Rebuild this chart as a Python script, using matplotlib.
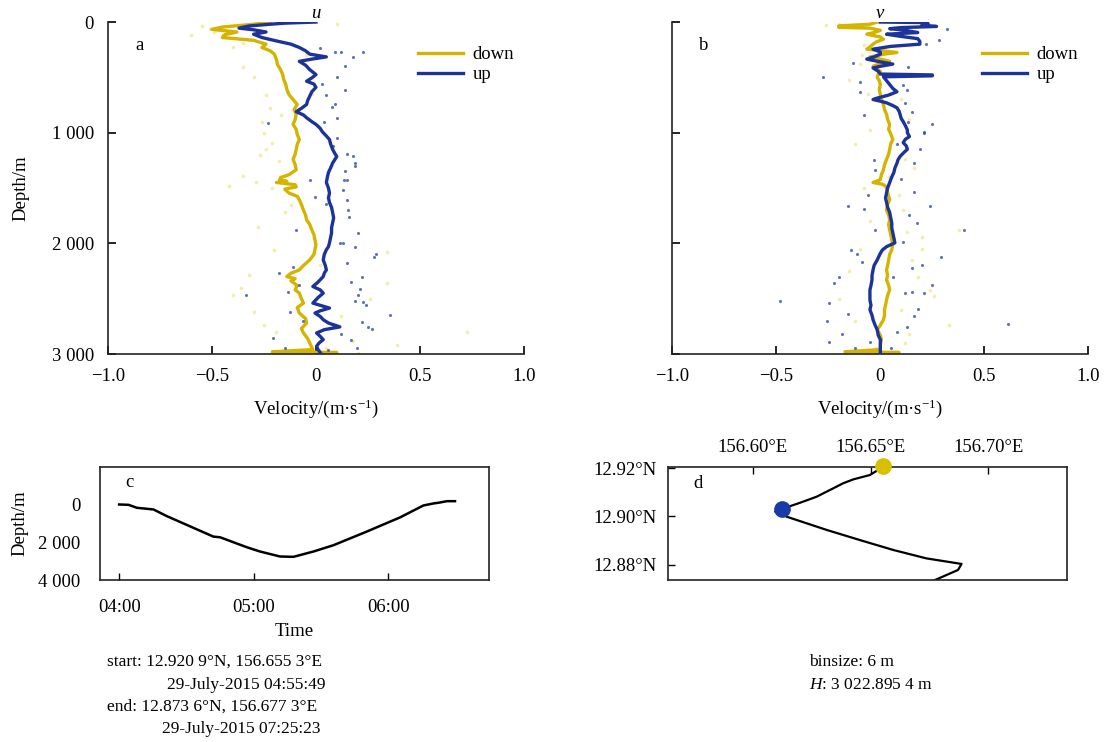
import numpy as np
import matplotlib
matplotlib.use("Agg")
import matplotlib.pyplot as plt

plt.rcParams['font.family'] = ['Liberation Serif', 'DejaVu Serif']
plt.rcParams['font.size'] = 13
plt.rcParams['mathtext.fontset'] = 'custom'
plt.rcParams['mathtext.it'] = 'Liberation Serif:italic'
plt.rcParams['mathtext.rm'] = 'Liberation Serif'

YELLOW = '#D4B400'
BLUE = '#1C3399'
HALO = '#E8D84A'

# ---------------- velocity profiles (depth in m, velocity in m/s) ----------------
u_down_depth = [0, 20, 45, 66, 90, 115, 140, 165, 200, 230, 260, 290, 340, 385, 430, 475, 520, 565, 610,
                655, 700, 745, 790, 835, 880, 925, 970, 1015, 1062, 1105, 1150, 1195, 1240, 1290, 1335,
                1380, 1405, 1425, 1440, 1450, 1470, 1490, 1510, 1545, 1575, 1605, 1650, 1700, 1745, 1787,
                1830, 1878, 1920, 1970, 2010, 2058, 2100, 2150, 2200, 2240, 2270, 2300, 2320, 2340, 2380,
                2420, 2450, 2500, 2540, 2580, 2630, 2680, 2720, 2770, 2810, 2860, 2900, 2960, 2980, 2986, 2990]
u_down = [-0.22, -0.30, -0.45, -0.50, -0.38, -0.44, -0.45, -0.30, -0.24, -0.26, -0.22, -0.20, -0.19, -0.185,
          -0.17, -0.16, -0.155, -0.145, -0.14, -0.13, -0.11, -0.09, -0.105, -0.095, -0.10, -0.11, -0.095,
          -0.09, -0.08, -0.09, -0.095, -0.10, -0.11, -0.10, -0.095, -0.13, -0.17, -0.175, -0.14, -0.19,
          -0.10, -0.095, -0.15, -0.13, -0.09, -0.08, -0.07, -0.06, -0.05, -0.045, -0.03, -0.02, -0.01,
          -0.005, 0.0, -0.005, -0.01, -0.03, -0.06, -0.08, -0.12, -0.14, -0.10, -0.12, -0.09, -0.10, -0.08,
          -0.07, -0.06, -0.09, -0.08, -0.05, -0.045, -0.07, -0.06, -0.04, -0.03, -0.015, -0.21, 0.10, 0.0]

u_up_depth = [0, 10, 20, 35, 55, 70, 90, 110, 140, 175, 200, 230, 260, 290, 315, 335, 355, 390, 430, 475,
              505, 535, 560, 590, 630, 670, 710, 745, 780, 810, 840, 865, 900, 925, 960, 990, 1030, 1062,
              1100, 1150, 1185, 1215, 1245, 1275, 1320, 1360, 1400, 1450, 1500, 1545, 1590, 1630, 1675,
              1720, 1770, 1815, 1860, 1905, 1950, 1995, 2030, 2058, 2100, 2150, 2200, 2240, 2270, 2300,
              2350, 2390, 2420, 2450, 2490, 2540, 2585, 2610, 2630, 2660, 2690, 2720, 2755, 2780, 2810,
              2840, 2870, 2900, 2930, 2960, 2985]
u_up = [0.0, -0.15, -0.22, -0.32, -0.37, -0.30, -0.24, -0.30, -0.26, -0.18, -0.12, -0.08, -0.05, -0.03,
        0.05, -0.02, -0.08, -0.05, -0.03, 0.0, -0.02, -0.045, -0.01, 0.0, -0.02, -0.03, -0.04, -0.045,
        -0.07, -0.095, -0.06, -0.045, -0.02, 0.0, 0.02, 0.03, 0.05, 0.065, 0.07, 0.08, 0.09, 0.10, 0.09,
        0.08, 0.07, 0.06, 0.055, 0.05, 0.06, 0.065, 0.06, 0.065, 0.075, 0.08, 0.085, 0.08, 0.075, 0.075,
        0.07, 0.065, 0.06, 0.05, 0.04, 0.035, 0.045, 0.05, 0.04, 0.035, 0.01, -0.015, 0.02, 0.035, 0.01,
        -0.015, 0.065, 0.02, -0.005, 0.02, 0.035, 0.06, 0.115, 0.04, 0.003, 0.02, 0.035, 0.015, 0.003,
        0.01, 0.02]

v_down_depth = [0, 20, 35, 48, 55, 75, 95, 110, 135, 155, 180, 200, 225, 245, 262, 275, 290, 315, 335, 355,
                375, 400, 420, 445, 470, 500, 530, 565, 610, 655, 700, 745, 790, 835, 880, 925, 970, 1010,
                1062, 1100, 1150, 1195, 1240, 1290, 1335, 1380, 1425, 1440, 1450, 1465, 1490, 1545, 1605,
                1650, 1700, 1745, 1787, 1830, 1878, 1920, 1970, 2010, 2058, 2100, 2150, 2200, 2240, 2290,
                2330, 2380, 2420, 2470, 2510, 2560, 2600, 2650, 2690, 2740, 2780, 2830, 2870, 2920, 2960,
                2980, 2986, 2990]
v_down = [-0.015, -0.05, -0.20, -0.20, -0.05, 0.0, -0.03, -0.065, 0.0, 0.015, -0.02, -0.035, -0.05, -0.065,
          0.02, 0.08, 0.02, -0.05, 0.0, 0.045, 0.0, -0.035, -0.02, 0.0, -0.01, -0.015, -0.005, 0.0, -0.005,
          0.0, 0.005, 0.015, 0.02, 0.03, 0.035, 0.045, 0.04, 0.05, 0.06, 0.05, 0.045, 0.04, 0.03, 0.02,
          0.015, 0.005, 0.0, -0.02, -0.035, 0.01, 0.03, 0.035, 0.045, 0.035, 0.03, 0.04, 0.045, 0.04, 0.045,
          0.05, 0.055, 0.06, 0.055, 0.045, 0.04, 0.035, 0.03, 0.035, 0.03, 0.04, 0.045, 0.035, 0.03, 0.025,
          0.02, 0.02, 0.015, 0.0, -0.015, 0.0, 0.005, 0.0, 0.0, -0.17, 0.09, 0.0]

v_up_depth = [0, 5, 15, 28, 40, 50, 60, 75, 95, 110, 130, 150, 175, 200, 220, 245, 270, 290, 315, 335, 360,
              380, 400, 415, 445, 470, 478, 486, 495, 530, 565, 600, 630, 660, 690, 700, 715, 730, 755, 775,
              805, 835, 870, 900, 935, 975, 1000, 1035, 1060, 1090, 1120, 1150, 1185, 1215, 1245, 1275,
              1320, 1360, 1400, 1450, 1500, 1545, 1590, 1630, 1675, 1720, 1770, 1815, 1860, 1905, 1950,
              1995, 2030, 2060, 2090, 2150, 2200, 2240, 2290, 2330, 2380, 2420, 2470, 2510, 2560, 2600,
              2650, 2690, 2740, 2780, 2830, 2870, 2920, 2960, 2990]
v_up = [0.0, 0.22, 0.23, 0.20, 0.27, 0.10, 0.045, 0.12, 0.18, 0.03, 0.10, 0.18, 0.19, 0.19, 0.05, -0.035,
        0.0, 0.0, -0.03, -0.065, 0.0, 0.06, 0.0, -0.035, -0.01, 0.0, 0.25, 0.25, 0.015, 0.03, 0.045, 0.06,
        0.08, 0.04, -0.02, -0.035, 0.0, 0.03, 0.06, 0.08, 0.09, 0.095, 0.10, 0.11, 0.12, 0.13, 0.13, 0.14,
        0.12, 0.11, 0.125, 0.13, 0.11, 0.095, 0.085, 0.08, 0.07, 0.065, 0.055, 0.045, 0.035, 0.03, 0.025,
        0.03, 0.035, 0.045, 0.05, 0.055, 0.055, 0.06, 0.065, 0.07, 0.03, 0.01, 0.0, -0.015, -0.03, -0.035,
        -0.04, -0.04, -0.045, -0.05, -0.05, -0.05, -0.045, -0.05, -0.04, -0.035, -0.025, -0.015, -0.01,
        0.0, 0.0, 0.0, 0.0]

# individual ping estimates (velocity, depth)
u_up_pts_vel = [0.02, 0.09, 0.12, 0.18, 0.225, 0.14, 0.10, 0.14, 0.05, 0.075, 0.04, -0.23, -0.045, 0.10,
                0.18, 0.19, 0.135, 0.15, 0.19, 0.14, 0.15, 0.13, 0.15, 0.155, 0.16, 0.20, -0.095, -0.03,
                -0.005, 0.115, 0.13, 0.19, 0.28, 0.15, 0.22, 0.17, 0.20, 0.19, 0.225, 0.355, 0.25, 0.27,
                -0.335, -0.18, -0.135, -0.125, -0.205, 0.195, 0.06, -0.11, 0.29, 0.10, 0.08, 0.21, -0.06,
                0.12, 0.24, 0.17, 0.05, -0.15, 0.22, 0.09, 0.03, -0.08]
u_up_pts_depth = [235, 275, 270, 320, 275, 395, 500, 610, 655, 765, 900, 910, 275, 865, 1210, 1305, 1425,
                  1190, 1270, 1350, 1425, 1515, 1605, 1700, 1760, 1905, 1878, 1425, 1580, 1995, 2000, 2030,
                  2120, 2180, 2300, 2345, 2465, 2525, 2530, 2645, 2755, 2770, 2465, 2265, 2440, 2620,
                  2855, 2945, 2960, 2215, 2100, 1050, 1120, 2410, 2700, 2820, 2560, 2870, 1640, 2950,
                  2710, 740, 560, 2380]

v_up_pts_vel = [0.32, 0.28, 0.22, 0.135, -0.13, -0.275, -0.10, -0.10, 0.11, 0.13, 0.12, 0.15, 0.25, 0.135,
                -0.08, 0.21, 0.21, 0.19, 0.16, 0.16, -0.155, -0.08, 0.24, 0.40, -0.025, 0.175, -0.025,
                0.11, -0.11, 0.29, 0.20, 0.15, -0.225, -0.20, 0.12, 0.15, 0.21, 0.25, -0.245, -0.48,
                -0.255, -0.155, 0.16, 0.08, -0.245, -0.185, 0.13, -0.05, 0.615, 0.08, -0.06, 0.10,
                -0.12, 0.18, -0.09, 0.05, 0.14, -0.14, 0.06, -0.03]
v_up_pts_depth = [60, 165, 200, 410, 370, 500, 545, 630, 565, 610, 730, 810, 925, 900, 840, 990, 1000,
                  1150, 1270, 1535, 1665, 1690, 1665, 1878, 1340, 1820, 1880, 1990, 2100, 2120, 2200,
                  2220, 2355, 2300, 2450, 2440, 2450, 2380, 2540, 2525, 2705, 2640, 2660, 2800, 2890,
                  2820, 2760, 2890, 2730, 1100, 1560, 1420, 2950, 2590, 2170, 2950, 1740, 2060, 2300, 1250]

# scattered down-cast estimates (light halo)
u_dn_pts_vel = [-0.51, -0.49, -0.35, -0.30, -0.24, -0.22, -0.17, 0.10, -0.35, -0.35, -0.29, -0.42, -0.24,
                -0.21, -0.27, -0.21, -0.15, -0.045, -0.32, -0.36, -0.20, -0.25, -0.19, 0.34, 0.26, 0.725,
                0.39, 0.34, -0.60, -0.55, -0.40, -0.05, -0.02, -0.25, -0.18, -0.12, 0.02, -0.28, -0.30,
                0.05, -0.14, 0.12, 0.20, -0.40, 0.18, -0.26]
u_dn_pts_depth = [66, 90, 410, 500, 655, 780, 840, 20, 185, 1395, 1450, 1485, 1150, 1090, 1200, 1500,
                  1720, 1800, 2285, 2400, 2060, 2740, 2800, 2355, 2500, 2800, 2915, 2075, 120, 40, 230,
                  300, 650, 1000, 1260, 1650, 2200, 1850, 2620, 2950, 2960, 2660, 2990, 2470, 2880, 900]

v_dn_pts_vel = [-0.26, -0.20, -0.08, -0.10, -0.15, -0.06, 0.10, 0.14, -0.05, -0.12, 0.12, 0.16, -0.08,
                0.09, 0.11, -0.05, 0.13, 0.20, -0.10, 0.15, -0.15, 0.18, 0.24, -0.20, 0.10, -0.12, 0.33,
                0.14, 0.12, -0.02, 0.07, -0.09, 0.04, 0.20, 0.26, 0.38]
v_dn_pts_depth = [28, 22, 210, 380, 520, 650, 700, 880, 980, 1100, 1240, 1320, 1500, 1560, 1700, 1800,
                  1900, 1940, 2050, 2150, 2250, 2300, 2420, 2500, 2600, 2700, 2740, 2820, 2900, 2950,
                  60, 300, 1400, 2050, 2480, 1880]

# ---------------- dive time series ----------------
dive_minutes = [0, 4.2, 7.9, 15.3, 21.2, 42.0, 45.0, 56.9, 62.8, 71.7, 77.7, 86.6, 95.5, 110.3, 125.2,
                135.6, 140.0, 143.0, 146.0, 149.7]
dive_depth = [0, 18, 175, 263, 614, 1701, 1737, 2263, 2491, 2754, 2772, 2491, 2158, 1438, 684, 53, -53,
              -105, -175, -175]

# ---------------- ship track ----------------
track_lon = [156.6553, 156.6532, 156.6497, 156.6427, 156.6384, 156.6342, 156.6271, 156.6201, 156.6144,
             156.6095, 156.6144, 156.6314, 156.6455, 156.6596, 156.6737, 156.6886, 156.6871, 156.6822,
             156.6773]
track_lat = [12.9209, 12.9193, 12.9172, 12.9154, 12.9138, 12.9117, 12.9082, 12.9057, 12.9038, 12.9020,
             12.8999, 12.8944, 12.8902, 12.8861, 12.8826, 12.8803, 12.8778, 12.8757, 12.8736]
start_pos = (156.6553, 12.9209)
turn_pos = (156.6124, 12.9031)

vel_ticks = [-1.0, -0.5, 0.0, 0.5, 1.0]
vel_ticklabels = ['\u22121.0', '\u22120.5', '0', '0.5', '1.0']
depth_ticks = [0, 1000, 2000, 3000]
depth_ticklabels = ['0', '1 000', '2 000', '3 000']

FS = 13.5

fig = plt.figure(figsize=(11.04, 7.42), dpi=100)


def profile_axes(rect, dn_d, dn_v, up_d, up_v, upv, upd, dnv, dnd, title, letter, ylabels):
    ax = fig.add_axes(rect)
    ax.scatter(dnv, dnd, s=7, color=HALO, alpha=0.45, lw=0, zorder=1)
    ax.plot(dn_v, dn_d, color=YELLOW, lw=2.4, zorder=2, label='down')
    ax.scatter(upv, upd, s=5, color='#3A4FA8', alpha=0.8, lw=0, zorder=3)
    ax.plot(up_v, up_d, color=BLUE, lw=2.4, zorder=4, label='up')
    ax.set_xlim(-1.0, 1.0)
    ax.set_ylim(3000, 0)
    for s in ['top', 'right']:
        ax.spines[s].set_visible(False)
    for s in ['left', 'bottom']:
        ax.spines[s].set_linewidth(1.2)
        ax.spines[s].set_color('#222222')
    ax.set_xticks(vel_ticks)
    ax.set_xticklabels(vel_ticklabels)
    ax.set_yticks(depth_ticks)
    if ylabels:
        ax.set_yticklabels(depth_ticklabels)
        ax.set_ylabel('Depth/m', fontsize=FS, labelpad=16)
    else:
        ax.set_yticklabels([])
    ax.tick_params(direction='in', length=6, width=1.2, labelsize=FS, pad=10)
    ax.set_xlabel('Velocity/(m\u00b7s$^{\u22121}$)', fontsize=FS, labelpad=9)
    ax.set_title(title, fontsize=FS, style='italic', pad=3)
    ax.text(0.065, 0.93, letter, transform=ax.transAxes, fontsize=FS, va='center')
    ax.legend(loc='upper left', bbox_to_anchor=(0.705, 0.978), frameon=False, fontsize=FS,
              handlelength=2.4, labelspacing=0.15, handletextpad=0.5)
    return ax


profile_axes([0.0978, 0.5229, 0.3768, 0.4474], u_down_depth, u_down, u_up_depth, u_up,
             u_up_pts_vel, u_up_pts_depth, u_dn_pts_vel, u_dn_pts_depth, 'u', 'a', True)
profile_axes([0.609, 0.5229, 0.3768, 0.4474], v_down_depth, v_down, v_up_depth, v_up,
             v_up_pts_vel, v_up_pts_depth, v_dn_pts_vel, v_dn_pts_depth, 'v', 'b', False)

# ---------------- panel c: depth vs time ----------------
axc = fig.add_axes([0.0906, 0.2183, 0.3524, 0.1527])
dive_hours = [4.0 + m / 60.0 for m in dive_minutes]
axc.plot(dive_hours, dive_depth, color='black', lw=1.8)
axc.set_xlim(3.858, 6.748)
axc.set_ylim(4000, -2000)
axc.set_xticks([4, 5, 6])
axc.set_xticklabels(['04:00', '05:00', '06:00'])
axc.set_yticks([0, 2000, 4000])
axc.set_yticklabels(['0', '2 000', '4 000'])
axc.tick_params(axis='x', direction='in', length=5, width=1.0, labelsize=FS, pad=14)
axc.tick_params(axis='y', length=0, labelsize=FS, pad=14)
for s in axc.spines.values():
    s.set_linewidth(1.2)
    s.set_color('#222222')
axc.set_xlabel('Time', fontsize=FS, labelpad=5)
axc.set_ylabel('Depth/m', fontsize=FS, labelpad=7)
axc.text(0.064, 0.86, 'c', transform=axc.transAxes, fontsize=FS, va='center')

TS = 12.5
fig.text(106.7 / 1104, 1 - 662 / 742, 'start: 12.920 9\u00b0N, 156.655 3\u00b0E', fontsize=TS, va='center')
fig.text(166.7 / 1104, 1 - 685 / 742, '29-July-2015 04:55:49', fontsize=TS, va='center')
fig.text(106.7 / 1104, 1 - 707 / 742, 'end: 12.873 6\u00b0N, 156.677 3\u00b0E', fontsize=TS, va='center')
fig.text(162.3 / 1104, 1 - 729 / 742, '29-July-2015 07:25:23', fontsize=TS, va='center')

# ---------------- panel d: track ----------------
axd = fig.add_axes([0.6048, 0.2179, 0.362, 0.1523])
axd.plot(track_lon, track_lat, color='black', lw=1.6, zorder=2)
axd.plot(*start_pos, 'o', color='#D8BF00', ms=11, zorder=3, clip_on=False)
axd.plot(*turn_pos, 'o', color='#1A3AA8', ms=11, zorder=3, clip_on=False)
axd.set_xlim(156.5639, 156.7335)
axd.set_ylim(12.8735, 12.9204)
axd.set_xticks([156.60, 156.65, 156.70])
axd.set_xticklabels(['156.60\u00b0E', '156.65\u00b0E', '156.70\u00b0E'])
axd.set_yticks([12.88, 12.90, 12.92])
axd.set_yticklabels(['12.88\u00b0N', '12.90\u00b0N', '12.92\u00b0N'])
axd.xaxis.tick_top()
axd.tick_params(direction='in', length=5, width=1.0, labelsize=FS, pad=8)
for s in axd.spines.values():
    s.set_linewidth(1.2)
    s.set_color('#222222')
axd.text(0.065, 0.86, 'd', transform=axd.transAxes, fontsize=FS, va='center')

fig.text(809.3 / 1104, 1 - 662.5 / 742, 'binsize: 6 m', fontsize=TS, va='center')
fig.text(809.3 / 1104, 1 - 685 / 742, '$\\mathit{H}$: 3 022.895 4 m', fontsize=TS, va='center')

fig.savefig('out.png', dpi=100)
